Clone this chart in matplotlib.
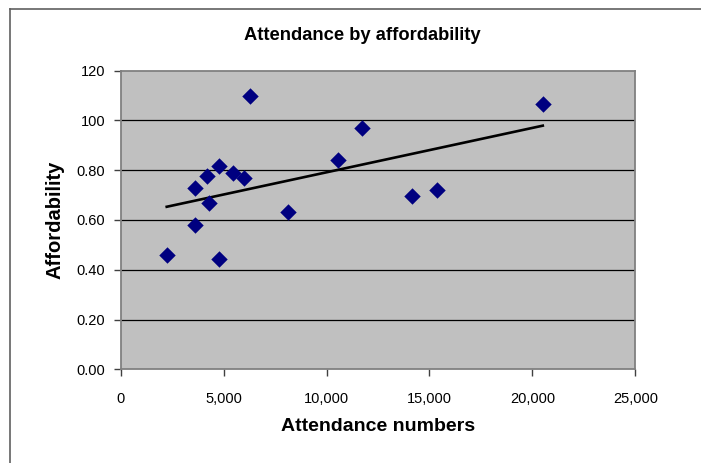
import matplotlib
matplotlib.use("Agg")
import matplotlib.pyplot as plt
import numpy as np
from matplotlib.ticker import FuncFormatter

plt.rcParams['font.family'] = ['Liberation Sans', 'DejaVu Sans']

# attendance vs affordability
attendance = [2235, 3610, 3610, 4180, 4275, 4790, 4790, 5470, 5990, 6270,
              8130, 10540, 11740, 14170, 15355, 20505]
affordability = [0.459, 0.727, 0.581, 0.776, 0.670, 0.817, 0.443, 0.790, 0.768, 1.100,
                 0.631, 0.841, 0.970, 0.695, 0.719, 1.067]
y_ticks = [0.0, 0.2, 0.4, 0.6, 0.8, 1.0, 1.2]
y_labels = ["0.00", "0.20", "0.40", "0.60", "0.80", "100", "120"]
x_ticks = [0, 5000, 10000, 15000, 20000, 25000]

fig = plt.figure(figsize=(7.01, 4.63), dpi=100)
ax = fig.add_axes([0.1722, 0.2024, 0.7341, 0.6449])
ax.set_facecolor('#c0c0c0')

# outer chart frame (top and left edges visible)
fig.add_artist(plt.Line2D([10/701, 1], [1-9/463, 1-9/463], color='#606060', lw=1.2))
fig.add_artist(plt.Line2D([10/701, 10/701], [0, 1-9/463], color='#606060', lw=1.2))

for yv in y_ticks[1:-1]:
    ax.axhline(yv, color='black', lw=0.9, zorder=1)

ax.scatter(attendance, affordability, marker='D', s=70, color='#000080', zorder=3, linewidths=0)

# linear trendline across the data range
x = np.array(attendance)
k, b = np.polyfit(x, affordability, 1)
xs = np.array([x.min(), x.max()])
ax.plot(xs, k*xs + b, color='black', lw=1.9, zorder=2)

ax.set_xlim(0, 25000)
ax.set_ylim(0, 1.2)
ax.set_xticks(x_ticks)
ax.xaxis.set_major_formatter(FuncFormatter(lambda v, p: f"{int(v):,}"))
ax.set_yticks(y_ticks)
ax.set_yticklabels(y_labels)

for s in ['left', 'bottom', 'top', 'right']:
    ax.spines[s].set_color('#808080')
    ax.spines[s].set_linewidth(1.3)
ax.tick_params(direction='out', length=5, width=1, color='#404040', labelsize=10.5)
ax.tick_params(axis='x', pad=11)
ax.tick_params(axis='y', pad=6)

# title is centred on the whole chart area, not the plot
fig.text(362/701, 1-40/463, "Attendance by affordability", fontsize=13.2, fontweight='bold',
         ha='center', va='baseline')
ax.set_xlabel("Attendance numbers", fontsize=14, fontweight='bold', labelpad=9)
ax.set_ylabel("Affordability", fontsize=14.5, fontweight='bold', labelpad=9)

fig.savefig("out.png", dpi=100)
